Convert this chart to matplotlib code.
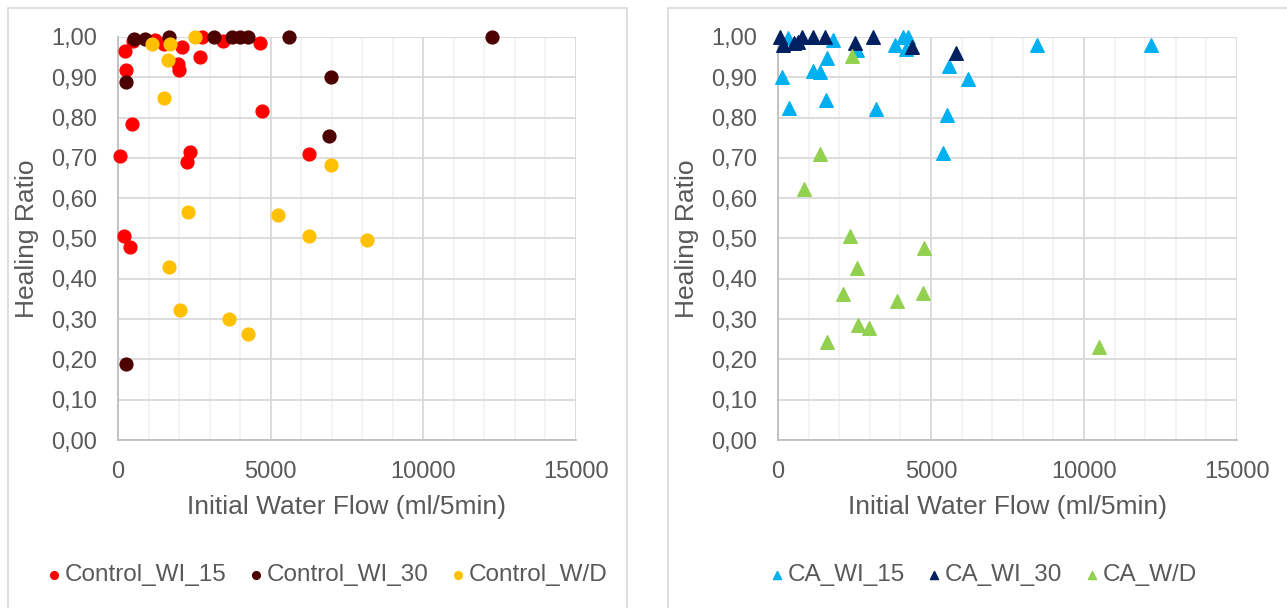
import matplotlib
matplotlib.use("Agg")
import matplotlib.pyplot as plt
from matplotlib.patches import Rectangle
from matplotlib.ticker import MultipleLocator, FuncFormatter

plt.rcParams['font.family'] = ['Liberation Sans', 'DejaVu Sans']

# ---- data ----
ctrl_wi15_x = [65, 230, 250, 458, 206, 393, 480, 1200, 1517, 1955, 2000, 2107, 2686, 2740,
               3450, 4650, 4727, 2358, 2260, 6255]
ctrl_wi15_y = [0.705, 0.965, 0.918, 0.784, 0.506, 0.478, 0.99, 0.993, 0.982, 0.933, 0.918, 0.974,
               0.951, 1.0, 0.991, 0.986, 0.816, 0.715, 0.689, 0.710]

ctrl_wi30_x = [535, 884, 1660, 3155, 3723, 4007, 4247, 5590, 251, 6976, 6900, 12258, 262]
ctrl_wi30_y = [0.995, 0.995, 1.0, 1.0, 1.0, 1.0, 1.0, 1.0, 0.889, 0.900, 0.754, 1.0, 0.189]

ctrl_wd_x = [1124, 1713, 1627, 2532, 1496, 6976, 2293, 5251, 6266, 8155, 1681, 2041, 3635, 4268]
ctrl_wd_y = [0.983, 0.983, 0.943, 0.999, 0.849, 0.682, 0.565, 0.558, 0.506, 0.496, 0.430, 0.323,
             0.301, 0.262]

ca_wi15_x = [142, 370, 1155, 1373, 1612, 1569, 1807, 2571, 3203, 3824, 4096, 4259, 4173, 5598,
             5513, 5402, 6200, 337, 8475, 12180]
ca_wi15_y = [0.901, 0.825, 0.916, 0.914, 0.947, 0.844, 0.993, 0.968, 0.821, 0.980, 1.0, 1.0, 0.970,
             0.928, 0.806, 0.711, 0.895, 0.997, 0.98, 0.98]

ca_wi30_x = [65, 174, 533, 660, 794, 1155, 1536, 2516, 3115, 4389, 5817]
ca_wi30_y = [1.0, 0.98, 0.984, 0.987, 1.0, 1.0, 1.0, 0.984, 1.0, 0.974, 0.96]

ca_wd_x = [2408, 1373, 861, 2353, 4782, 2582, 2113, 3878, 4739, 2625, 2985, 1612, 10480]
ca_wd_y = [0.953, 0.710, 0.624, 0.506, 0.476, 0.428, 0.362, 0.346, 0.364, 0.285, 0.277, 0.244, 0.232]

W, H = 1287, 608
fig = plt.figure(figsize=(W / 100, H / 100), dpi=100)

# panel frames
for x0, x1 in [(8, 627), (668, 1295)]:
    fig.patches.append(Rectangle((x0 / W, -0.05), (x1 - x0) / W, (H - 8) / H + 0.05,
                                 transform=fig.transFigure, fill=False,
                                 edgecolor='#D9D9D9', linewidth=1.2))

text_col = '#595959'


def style_axes(ax):
    ax.set_xlim(0, 15000)
    ax.set_ylim(0, 1.0)
    ax.xaxis.set_major_locator(MultipleLocator(5000))
    ax.xaxis.set_minor_locator(MultipleLocator(1000))
    ax.yaxis.set_major_locator(MultipleLocator(0.1))
    ax.yaxis.set_major_formatter(FuncFormatter(lambda v, p: f"{v:.2f}".replace('.', ',')))
    ax.grid(which='major', color='#D9D9D9', linewidth=1.3)
    ax.grid(which='minor', axis='x', color='#F2F2F2', linewidth=1.3)
    ax.set_axisbelow(True)
    for s in ['top', 'right']:
        ax.spines[s].set_visible(False)
    for s in ['left', 'bottom']:
        ax.spines[s].set_color('#BFBFBF')
        ax.spines[s].set_linewidth(1.3)
    ax.tick_params(which='both', length=0, labelsize=17, labelcolor=text_col)
    ax.tick_params(axis='y', pad=15)
    ax.tick_params(axis='x', pad=15)
    ax.set_xlabel('Initial Water Flow (ml/5min)', fontsize=19, color=text_col, labelpad=9)
    ax.set_ylabel('Healing Ratio', fontsize=19, color=text_col, labelpad=9)


ax1 = fig.add_axes([118 / W, (H - 440) / H, 458 / W, 403 / H])
ax2 = fig.add_axes([778 / W, (H - 440) / H, 459 / W, 403 / H])

ax1.scatter(ctrl_wi15_x, ctrl_wi15_y, s=85, color='#FF0000', label='Control_WI_15',
            clip_on=False, zorder=3)
ax1.scatter(ctrl_wi30_x, ctrl_wi30_y, s=85, color='#4D0000', label='Control_WI_30',
            clip_on=False, zorder=3)
ax1.scatter(ctrl_wd_x, ctrl_wd_y, s=85, color='#FFC000', label='Control_W/D',
            clip_on=False, zorder=3)

ax2.scatter(ca_wi15_x, ca_wi15_y, s=95, marker='^', color='#00B0F0', label='CA_WI_15',
            clip_on=False, zorder=3)
ax2.scatter(ca_wi30_x, ca_wi30_y, s=95, marker='^', color='#002060', label='CA_WI_30',
            clip_on=False, zorder=3)
ax2.scatter(ca_wd_x, ca_wd_y, s=95, marker='^', color='#92D050', label='CA_W/D',
            clip_on=False, zorder=3)

for ax, cx in [(ax1, 326 / W), (ax2, 982 / W)]:
    style_axes(ax)
    leg = ax.legend(loc='center', bbox_to_anchor=(cx, (H - 575) / H), bbox_transform=fig.transFigure,
                    ncol=3, frameon=False, fontsize=17.5, markerscale=0.6, handletextpad=0.05,
                    columnspacing=0.8, handlelength=0.8, borderpad=0)
    for t in leg.get_texts():
        t.set_color(text_col)

fig.savefig('out.png', dpi=100)
